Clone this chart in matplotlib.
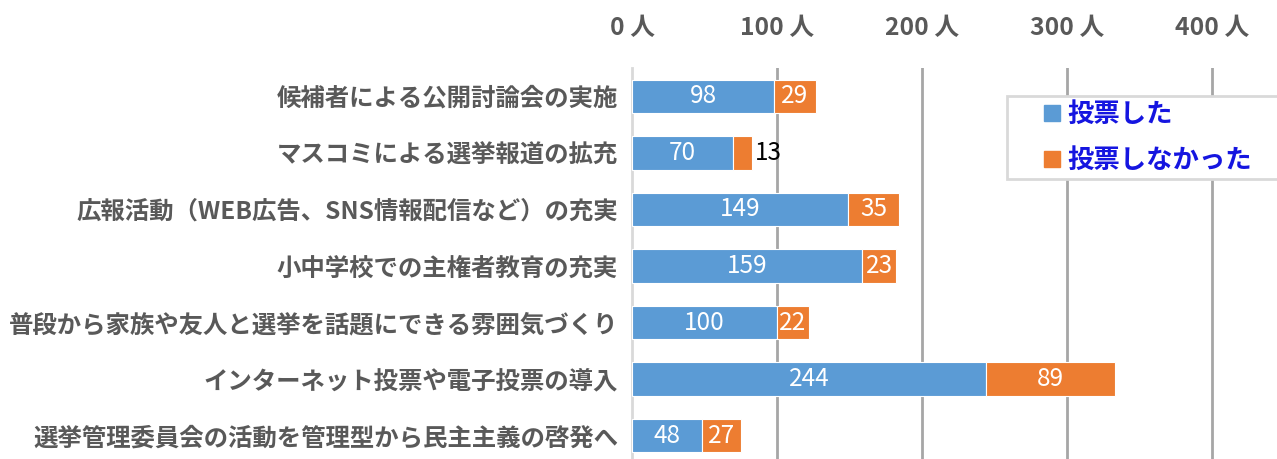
import numpy as np
import matplotlib.pyplot as plt
from matplotlib.lines import Line2D

plt.rcParams['font.family'] = ['Noto Sans CJK JP', 'DejaVu Sans']

categories = [
    '候補者による公開討論会の実施',
    'マスコミによる選挙報道の拡充',
    '広報活動（WEB広告、SNS情報配信など）の充実',
    '小中学校での主権者教育の充実',
    '普段から家族や友人と選挙を話題にできる雰囲気づくり',
    'インターネット投票や電子投票の導入',
    '選挙管理委員会の活動を管理型から民主主義の啓発へ',
]
voted = [98, 70, 149, 159, 100, 244, 48]
not_voted = [29, 13, 35, 23, 22, 89, 27]
series_names = ['投票した', '投票しなかった']
ticks = [0, 100, 200, 300, 400]

blue = '#5B9BD5'
orange = '#ED7D31'

fig = plt.figure(figsize=(12.77, 4.59), dpi=100)
ax = fig.add_axes([632 / 1277, 1 - 464 / 459, 1 - 632 / 1277, 396 / 459])

y = np.arange(len(categories))
h = 0.59
ax.barh(y, voted, height=h, color=blue, edgecolor='white', lw=0.8, zorder=3)
ax.barh(y, not_voted, left=voted, height=h, color=orange, edgecolor='white',
        lw=0.8, zorder=3)

for i, (v, n) in enumerate(zip(voted, not_voted)):
    ax.text(v / 2, i, str(v), ha='center', va='center', color='white',
            fontsize=17.5, zorder=4)
    if n >= 20:
        ax.text(v + n / 2, i, str(n), ha='center', va='center', color='white',
                fontsize=17.5, zorder=4)
    else:
        ax.text(v + n + 1.5, i, str(n), ha='left', va='center', color='black',
                fontsize=17.5, zorder=4)

ax.set_ylim(len(categories) - 0.5, -0.5)
ax.set_xlim(0, 445)
ax.set_yticks(y)
ax.set_yticklabels(categories, fontsize=17.6, fontweight='bold', color='#595959')
ax.xaxis.tick_top()
ax.set_xticks(ticks)
ax.set_xticklabels(['%d 人' % t for t in ticks], fontsize=17.8, fontweight='bold',
                   color='#595959')
ax.tick_params(length=0)
ax.tick_params(axis='x', pad=20)
ax.tick_params(axis='y', pad=10)

for t in ticks[1:]:
    ax.axvline(t, color='#a6a6a6', lw=2, zorder=1)
for s in ['top', 'right', 'bottom']:
    ax.spines[s].set_visible(False)
ax.spines['left'].set_color('#d9d9d9')
ax.spines['left'].set_linewidth(2)

handles = [Line2D([], [], ls='none', marker='s', markersize=11, color=c)
           for c in (blue, orange)]
leg = fig.legend(handles, series_names, loc='upper left',
                 bbox_to_anchor=(1007 / 1277, 1 - 96 / 459 - 0.01, 290 / 1277, 0.01),
                 mode='expand',
                 prop={'size': 19, 'weight': 'bold'}, handlelength=3.0,
                 handletextpad=-0.9, labelspacing=0.7,
                 borderpad=0.2, borderaxespad=0, fancybox=False, framealpha=1)
leg.get_frame().set_edgecolor('#d9d9d9')
leg.get_frame().set_linewidth(2)
for txt in leg.get_texts():
    txt.set_color('#1515e0')

fig.savefig('out.png', dpi=100)
